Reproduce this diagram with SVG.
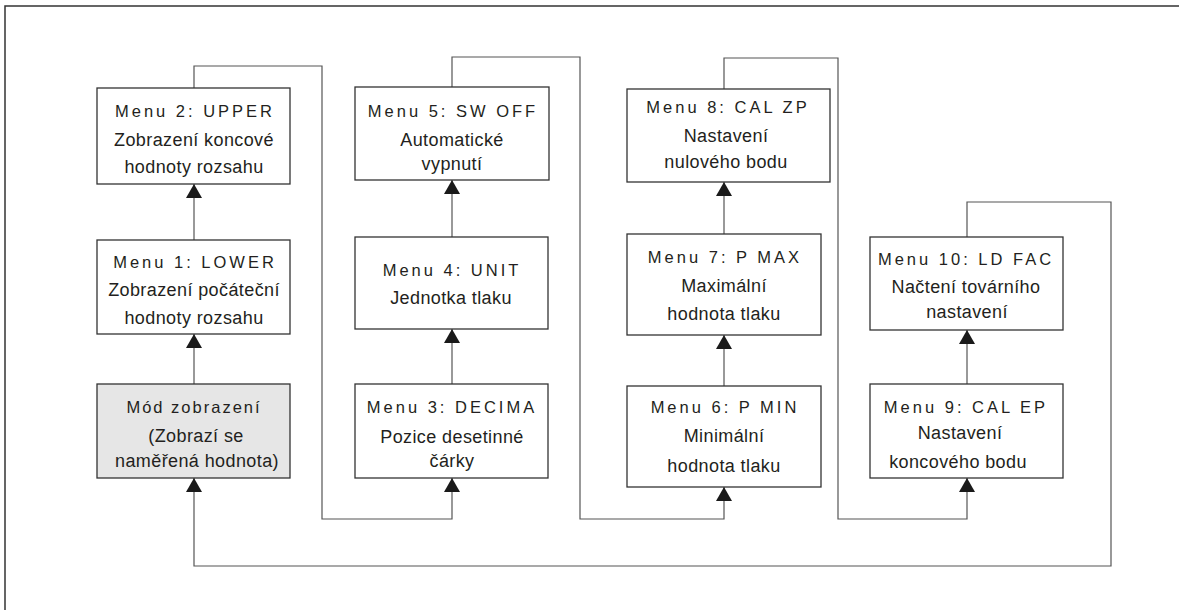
<svg xmlns="http://www.w3.org/2000/svg" width="1179" height="610" viewBox="0 0 1179 610">
<defs>
<marker id="arr" viewBox="0 0 14 16" refX="14" refY="8" markerWidth="14" markerHeight="16" markerUnits="userSpaceOnUse" orient="auto">
<path d="M0,0 L14,8 L0,16 Z" fill="#1a1a1a"/>
</marker>
<style>
.box{fill:#fff;stroke:#333;stroke-width:1.3}
.gray{fill:#e6e6e6}
.t{font-family:"Liberation Sans",Arial,sans-serif;font-size:16.5px;letter-spacing:3px;fill:#231f20;text-anchor:middle}
.b{font-family:"Liberation Sans",Arial,sans-serif;font-size:18px;letter-spacing:0.4px;fill:#231f20;text-anchor:middle}
.c{fill:none;stroke:#555;stroke-width:1.2}
.ca{fill:none;stroke:#555;stroke-width:1.2;marker-end:url(#arr)}
.frame{fill:none;stroke:#333;stroke-width:1.5}
</style>
</defs>
<rect width="1179" height="610" fill="#fff"/>
<path class="frame" d="M5,612 L5,6 L1181,6"/>

<g id="connectors">
<path class="ca" d="M194,240 L194,184"/>
<path class="ca" d="M194,384 L194,334"/>
<path class="ca" d="M452,237 L452,180"/>
<path class="ca" d="M452,384 L452,329"/>
<path class="ca" d="M724,234 L724,182"/>
<path class="ca" d="M724,386 L724,335"/>
<path class="ca" d="M967,384 L967,330"/>
<path class="ca" d="M194,88 L194,66 L322,66 L322,519 L452,519 L452,478"/>
<path class="ca" d="M452,87 L452,57 L580,57 L580,519 L724,519 L724,487"/>
<path class="ca" d="M724,89 L724,58 L838,58 L838,519 L967,519 L967,478"/>
<path class="ca" d="M967,237 L967,202 L1111,202 L1111,566 L194,566 L194,478"/>
</g>

<g id="menu2">
<rect class="box" x="97" y="88" width="193" height="96"/>
<text class="t" x="195" y="117">Menu 2: UPPER</text>
<text class="b" x="194" y="146">Zobrazení koncové</text>
<text class="b" x="194" y="173">hodnoty rozsahu</text>
</g>
<g id="menu1">
<rect class="box" x="97" y="240" width="193" height="94"/>
<text class="t" x="195" y="268">Menu 1: LOWER</text>
<text class="b" x="194" y="296">Zobrazení počáteční</text>
<text class="b" x="194" y="324">hodnoty rozsahu</text>
</g>
<g id="mod">
<rect class="box gray" x="97" y="384" width="193" height="94"/>
<text class="t" x="194" y="413" style="letter-spacing:2px">Mód zobrazení</text>
<text class="b" x="196" y="442">(Zobrazí se</text>
<text class="b" x="197" y="467">naměřená hodnota)</text>
</g>

<g id="menu5">
<rect class="box" x="355" y="87" width="194" height="93"/>
<text class="t" x="453" y="117">Menu 5: SW OFF</text>
<text class="b" x="452" y="146">Automatické</text>
<text class="b" x="452" y="170">vypnutí</text>
</g>
<g id="menu4">
<rect class="box" x="355" y="237" width="193" height="92"/>
<text class="t" x="452" y="276">Menu 4: UNIT</text>
<text class="b" x="451" y="304">Jednotka tlaku</text>
</g>
<g id="menu3">
<rect class="box" x="355" y="384" width="193" height="94"/>
<text class="t" x="452" y="413">Menu 3: DECIMA</text>
<text class="b" x="452" y="443">Pozice desetinné</text>
<text class="b" x="452" y="467">čárky</text>
</g>

<g id="menu8">
<rect class="box" x="627" y="89" width="203" height="93"/>
<text class="t" x="728" y="113">Menu 8: CAL ZP</text>
<text class="b" x="726" y="142">Nastavení</text>
<text class="b" x="726" y="168">nulového bodu</text>
</g>
<g id="menu7">
<rect class="box" x="627" y="234" width="194" height="101"/>
<text class="t" x="725" y="263">Menu 7: P MAX</text>
<text class="b" x="724" y="292">Maximální</text>
<text class="b" x="724" y="320">hodnota tlaku</text>
</g>
<g id="menu6">
<rect class="box" x="627" y="386" width="194" height="101"/>
<text class="t" x="725" y="413">Menu 6: P MIN</text>
<text class="b" x="724" y="442">Minimální</text>
<text class="b" x="724" y="472">hodnota tlaku</text>
</g>

<g id="menu10">
<rect class="box" x="870" y="237" width="193" height="93"/>
<text class="t" x="966" y="265">Menu 10: LD FAC</text>
<text class="b" x="966" y="293">Načtení továrního</text>
<text class="b" x="967" y="318">nastavení</text>
</g>
<g id="menu9">
<rect class="box" x="870" y="384" width="193" height="94"/>
<text class="t" x="966" y="413">Menu 9: CAL EP</text>
<text class="b" x="960" y="439">Nastavení</text>
<text class="b" x="958" y="468">koncového bodu</text>
</g>
</svg>
